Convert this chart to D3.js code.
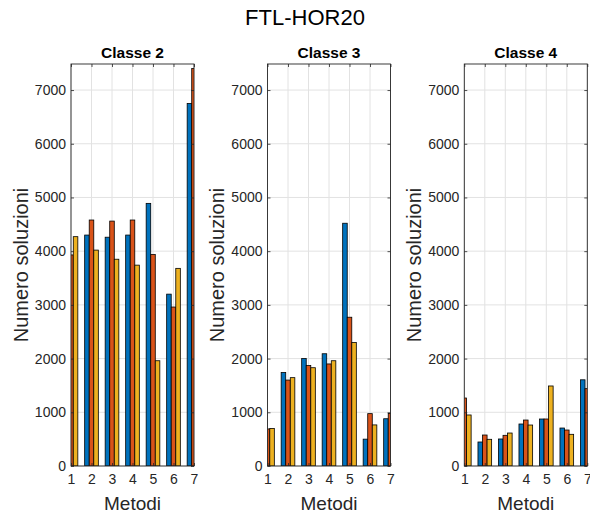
<!DOCTYPE html>
<html>
<head>
<meta charset="utf-8">
<script src="https://cdn.jsdelivr.net/npm/d3@7"></script>
<style>
  html, body { margin: 0; padding: 0; background: #fff; }
  text { font-family: "Liberation Sans", Arial, Helvetica, sans-serif; }
</style>
</head>
<body>
<script>
// Method indices on the x axis and y tick values
const metodi = [1, 2, 3, 4, 5, 6, 7];
const yTicks = [0, 1000, 2000, 3000, 4000, 5000, 6000, 7000];
const classi = ["Classe 2", "Classe 3", "Classe 4"];

// Number of solutions per method, three series per class
const classe2_s1 = [4300, 4300, 4260, 4300, 4890, 3200, 6750];
const classe2_s2 = [3930, 4580, 4560, 4580, 3940, 2960, 7400];
const classe2_s3 = [4270, 4020, 3850, 3740, 1960, 3680, 7000];

const classe3_s1 = [690, 1740, 2000, 2090, 4520, 500, 880];
const classe3_s2 = [690, 1600, 1870, 1900, 2770, 975, 980];
const classe3_s3 = [700, 1645, 1830, 1960, 2300, 765, 900];

const classe4_s1 = [1300, 447, 503, 782, 875, 707, 1605];
const classe4_s2 = [1266, 577, 571, 856, 875, 670, 1440];
const classe4_s3 = [950, 497, 614, 763, 1490, 590, 1400];

const datiClassi = [
  [classe2_s1, classe2_s2, classe2_s3],
  [classe3_s1, classe3_s2, classe3_s3],
  [classe4_s1, classe4_s2, classe4_s3]
];

const colori = ["#0072BD", "#D95319", "#EDB120"];
const axisColor = "#262626";
const gridColor = "#e2e2e2";

// Figure layout
const W = 590, H = 515;
const axTop = 64, axBottom = 466, axW = 123;
const axLefts = [71, 267.5, 464.3];
const yMax = 7485;
const barW = 2 / 9;                 // width of a single bar in x units
const offsets = [-2 / 9, 0, 2 / 9]; // series offsets inside a group

const svg = d3.select("body").append("svg")
  .attr("width", W).attr("height", H);

// Figure title
svg.append("text")
  .attr("x", 305).attr("y", 25)
  .attr("text-anchor", "middle")
  .attr("font-size", 22)
  .attr("fill", "#000")
  .text("FTL-HOR20");

const y = d3.scaleLinear().domain([0, yMax]).range([axBottom, axTop]);

classi.forEach((nome, i) => {
  const left = axLefts[i];
  const x = d3.scaleLinear().domain([1, 7]).range([left, left + axW]);
  const g = svg.append("g");

  const clipId = "clip" + i;
  svg.append("clipPath").attr("id", clipId)
    .append("rect")
    .attr("x", left).attr("y", axTop)
    .attr("width", axW).attr("height", axBottom - axTop);

  // Grid
  g.append("g").selectAll("line.gx").data(metodi).join("line")
    .attr("x1", d => x(d)).attr("x2", d => x(d))
    .attr("y1", axTop).attr("y2", axBottom)
    .attr("stroke", gridColor).attr("stroke-width", 1);
  g.append("g").selectAll("line.gy").data(yTicks).join("line")
    .attr("x1", left).attr("x2", left + axW)
    .attr("y1", d => y(d)).attr("y2", d => y(d))
    .attr("stroke", gridColor).attr("stroke-width", 1);

  // Grouped bars, clipped to the axes area
  const bars = g.append("g").attr("clip-path", `url(#${clipId})`);
  datiClassi[i].forEach((serie, s) => {
    bars.selectAll(null).data(serie.map((v, j) => ({ m: metodi[j], v })))
      .join("rect")
      .attr("x", d => x(d.m + offsets[s] - barW / 2))
      .attr("width", x(1 + barW) - x(1))
      .attr("y", d => y(d.v))
      .attr("height", d => y(0) - y(d.v))
      .attr("fill", colori[s])
      .attr("stroke", "#000")
      .attr("stroke-width", 0.8);
  });

  // Axes with inward ticks on all four sides
  const tickLen = 3;
  const axL = g.append("g").attr("transform", `translate(${left},0)`)
    .call(d3.axisLeft(y).tickValues(yTicks).tickSize(-tickLen).tickSizeOuter(0).tickPadding(5).tickFormat(d3.format("d")));
  const axR = g.append("g").attr("transform", `translate(${left + axW},0)`)
    .call(d3.axisRight(y).tickValues(yTicks).tickSize(-tickLen).tickSizeOuter(0).tickFormat(""));
  const axB = g.append("g").attr("transform", `translate(0,${axBottom})`)
    .call(d3.axisBottom(x).tickValues(metodi).tickSize(-tickLen).tickSizeOuter(0).tickPadding(8).tickFormat(d3.format("d")));
  const axT = g.append("g").attr("transform", `translate(0,${axTop})`)
    .call(d3.axisTop(x).tickValues(metodi).tickSize(-tickLen).tickSizeOuter(0).tickFormat(""));

  [axL, axR, axB, axT].forEach(a => {
    a.select(".domain").remove();
    a.selectAll(".tick line").attr("stroke", axisColor).attr("stroke-width", 0.8);
    a.selectAll(".tick text")
      .attr("fill", axisColor)
      .attr("font-size", 14)
      .attr("font-family", "'Liberation Sans', Arial, Helvetica, sans-serif");
  });

  // Box
  g.append("rect")
    .attr("x", left).attr("y", axTop)
    .attr("width", axW).attr("height", axBottom - axTop)
    .attr("fill", "none").attr("stroke", axisColor).attr("stroke-width", 0.9);

  // Subplot title
  g.append("text")
    .attr("x", left + axW / 2).attr("y", 57.5)
    .attr("text-anchor", "middle")
    .attr("font-size", 15.5).attr("font-weight", "bold")
    .attr("fill", "#000")
    .text(nome);

  // Axis labels
  g.append("text")
    .attr("x", left + axW / 2).attr("y", 510)
    .attr("text-anchor", "middle")
    .attr("font-size", 19).attr("fill", axisColor)
    .text("Metodi");

  g.append("text")
    .attr("transform", `translate(${left - 43.5},${(axTop + axBottom) / 2}) rotate(-90)`)
    .attr("text-anchor", "middle")
    .attr("font-size", 20).attr("fill", axisColor)
    .text("Numero soluzioni");
});
</script>
</body>
</html>
